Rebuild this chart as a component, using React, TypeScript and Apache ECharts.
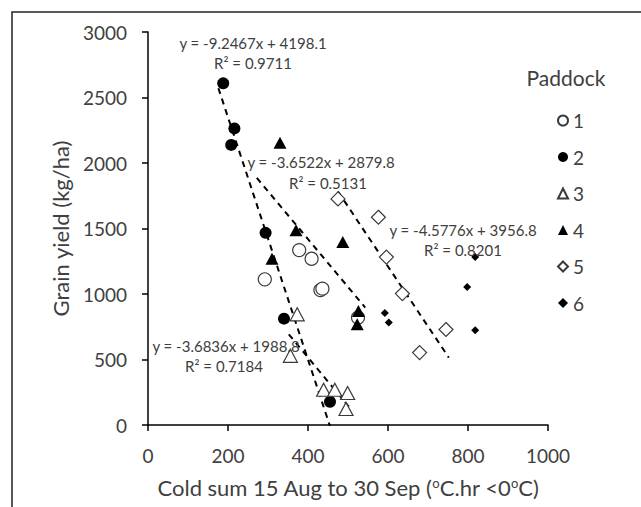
import React, { useEffect, useRef } from 'react';
import * as echarts from 'echarts';

// ---- data ----
const paddockNames = ['1', '2', '3', '4', '5', '6'];
const paddock1 = [[292, 1112], [378, 1335], [409, 1269], [431, 1030], [436, 1041], [525, 820]];
const paddock2 = [[188, 2608], [216, 2264], [208, 2138], [294, 1467], [340, 812], [455, 178]];
const paddock3 = [[373, 845], [356, 528], [439, 269], [467, 269], [499, 244], [495, 122]];
const paddock4 = [[330, 2154], [370, 1487], [487, 1396], [310, 1269], [526, 870], [523, 769]];
const paddock5 = [[475, 1726], [576, 1586], [596, 1282], [636, 1003], [745, 729], [679, 553]];
const paddock6 = [[818, 1282], [798, 1053], [818, 723], [592, 855], [602, 782]];

// trendlines (Excel equations shown on the chart)
const trendSlopes = [-9.2467, -3.6522, -3.6836, -4.5776];
const trendIntercepts = [4198.1, 2879.8, 1988.8, 3956.8];
const trendR2 = ['0.9711', '0.5131', '0.7184', '0.8201'];
const trendXStart = [176, 272, 352, 475];
const trendXEnd = [455, 543, 503, 752];

const xAxisMin = 0, xAxisMax = 1000, xAxisStep = 200;
const yAxisMin = 0, yAxisMax = 3000, yAxisStep = 500;

// ---- layout ----
const FONT = 'Lato, "Open Sans", sans-serif';
const TXT = '#404040';
const eqLabelPos = [
  [253, 43, 253, 63],
  [321, 162, 328, 183],
  [226, 346, 224, 366],
  [463, 230, 463, 250],
];

export default function App() {
  const ref = useRef<HTMLDivElement>(null);
  useEffect(() => {
    if (!ref.current) return;
    const chart = echarts.init(ref.current, undefined, { renderer: 'svg' });

    const open = { color: '#ffffff', borderColor: '#3a3a3a', borderWidth: 1.2, opacity: 1 };
    const filled = { color: '#000000', opacity: 1 };
    const scatterDefs = [
      { data: paddock1, symbol: 'circle', size: 13, style: open },
      { data: paddock2, symbol: 'circle', size: 12, style: filled },
      { data: paddock3, symbol: 'triangle', size: [14, 13], style: open },
      { data: paddock4, symbol: 'triangle', size: [13, 12], style: filled },
      { data: paddock5, symbol: 'diamond', size: [14, 14], style: open },
      { data: paddock6, symbol: 'diamond', size: [8, 8], style: filled },
    ];
    const scatterSeries = scatterDefs.map((d, i) => ({
      name: paddockNames[i],
      type: 'scatter',
      data: d.data,
      symbol: d.symbol,
      symbolSize: d.size,
      itemStyle: d.style,
      z: 3,
    }));
    const trendSeries = trendSlopes.map((m, i) => ({
      name: 'trend' + i,
      type: 'line',
      data: [
        [trendXStart[i], m * trendXStart[i] + trendIntercepts[i]],
        [trendXEnd[i], m * trendXEnd[i] + trendIntercepts[i]],
      ],
      symbol: 'none',
      silent: true,
      lineStyle: { color: '#000', width: 2, type: [6, 5] },
      z: 2,
    }));

    const eqTexts: any[] = [];
    trendSlopes.forEach((m, i) => {
      const [x1, y1, x2, y2] = eqLabelPos[i];
      const mk = (x: number, y: number, text: string) => ({
        type: 'text',
        x, y,
        z: 10,
        style: {
          text,
          fill: TXT,
          fontSize: 15,
          fontFamily: FONT,
          align: 'center',
          verticalAlign: 'middle',
          textAlign: 'center',
          textVerticalAlign: 'middle',
        },
      });
      eqTexts.push(mk(x1, y1, `y = ${m.toFixed(4)}x + ${trendIntercepts[i].toFixed(1)}`));
      eqTexts.push(mk(x2, y2, `R² = ${trendR2[i]}`));
    });

    chart.setOption({
      animation: false,
      backgroundColor: '#ffffff',
      grid: { left: 148, right: 93, top: 32, bottom: 82 },
      xAxis: {
        type: 'value',
        min: xAxisMin,
        max: xAxisMax,
        interval: xAxisStep,
        splitLine: { show: false },
        axisLine: { show: true, onZero: false, lineStyle: { color: '#000', width: 1.5 } },
        axisTick: { show: true, length: 6, lineStyle: { color: '#000', width: 1.5 } },
        axisLabel: { color: TXT, fontSize: 19, fontFamily: FONT, margin: 21, formatter: (v: number) => String(v) },
        name: 'Cold sum 15 Aug to 30 Sep ({sup|o}C.hr <0{sup|o}C)',
        nameLocation: 'middle',
        nameGap: 51,
        nameTextStyle: {
          color: TXT,
          fontSize: 22,
          fontFamily: FONT,
          rich: { sup: { fontSize: 13, fontFamily: FONT, color: TXT, verticalAlign: 'top', lineHeight: 22 } },
        },
      },
      yAxis: {
        type: 'value',
        min: yAxisMin,
        max: yAxisMax,
        interval: yAxisStep,
        splitLine: { show: false },
        axisLine: { show: true, onZero: false, lineStyle: { color: '#000', width: 1.5 } },
        axisTick: { show: true, length: 6, lineStyle: { color: '#000', width: 1.5 } },
        axisLabel: { color: TXT, fontSize: 19, fontFamily: FONT, margin: 21, formatter: (v: number) => String(v) },
        name: 'Grain yield (kg/ha)',
        nameLocation: 'middle',
        nameGap: 77,
        nameTextStyle: { color: TXT, fontSize: 22, fontFamily: FONT },
      },
      legend: {
        data: paddockNames,
        orient: 'vertical',
        left: 552,
        top: 106,
        itemWidth: 10,
        itemHeight: 10,
        itemGap: 17.5,
        textStyle: { color: TXT, fontSize: 19, fontFamily: FONT },
        selectedMode: false,
      },
      graphic: [
        {
          type: 'rect',
          shape: { x: 12, y: 12, width: 700, height: 600 },
          style: { fill: 'none', stroke: '#222', lineWidth: 1.5 },
          silent: true,
        },
        {
          type: 'text',
          x: 566,
          y: 77,
          style: {
            text: 'Paddock',
            fill: TXT,
            fontSize: 21,
            fontFamily: FONT,
            align: 'center',
            verticalAlign: 'middle',
            textAlign: 'center',
            textVerticalAlign: 'middle',
          },
        },
        ...eqTexts,
      ],
      series: [...scatterSeries, ...trendSeries],
    });
    return () => chart.dispose();
  }, []);
  return (
    <div
      ref={ref}
      style={{ position: 'absolute', left: 0, top: 0, width: 641, height: 507, background: '#fff' }}
    />
  );
}
